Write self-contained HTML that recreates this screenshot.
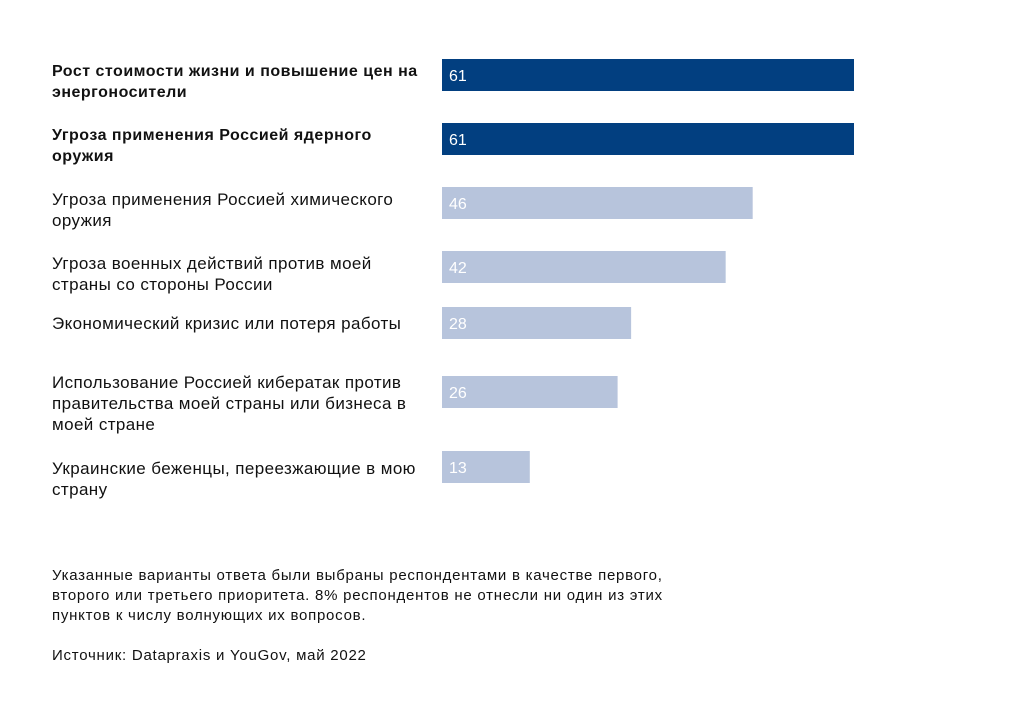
<!DOCTYPE html>
<html><head><meta charset="utf-8"><style>
body{margin:0;background:#fff;width:1024px;height:705px;overflow:hidden;font-family:"Liberation Sans",sans-serif;}
#c{position:absolute;left:0;top:0}
.lab{position:absolute;left:52px;font-size:17px;line-height:21px;color:#111;letter-spacing:0.4px}
.b{font-weight:bold;font-size:16px;letter-spacing:0.5px}
.note{position:absolute;left:52px;font-size:15px;line-height:20px;color:#111;letter-spacing:0.75px}
</style></head><body>
<div class="lab b" style="top:61px">Рост стоимости жизни и повышение цен на<br>энергоносители</div>
<div class="lab b" style="top:125px">Угроза применения Россией ядерного<br>оружия</div>
<div class="lab" style="top:189px">Угроза применения Россией химического<br>оружия</div>
<div class="lab" style="top:253px">Угроза военных действий против моей<br>страны со стороны России</div>
<div class="lab" style="top:313px">Экономический кризис или потеря работы</div>
<div class="lab" style="top:372px">Использование Россией кибератак против<br>правительства моей страны или бизнеса в<br>моей стране</div>
<div class="lab" style="top:458px">Украинские беженцы, переезжающие в мою<br>страну</div>
<svg id="c" width="1024" height="705"></svg>
<div class="note" style="top:566px">Указанные варианты ответа были выбраны респондентами в качестве первого,<br>второго или третьего приоритета. 8% респондентов не отнесли ни один из этих<br>пунктов к числу волнующих их вопросов.</div>
<div class="note" style="top:646px">Источник: Datapraxis и YouGov, май 2022</div>
<script>
const categories=["cost","nuclear","chemical","military","economic","cyber","refugees"];
const values=[61,61,46,42,28,26,13];
const highlighted=[true,true,false,false,false,false,false];
const rowTops=[59,123,187,251,307,376,451];
const x0=442,scale=412/61,barH=32;
function xs(v){return v*scale;}
const svg=document.getElementById('c');
const NS="http://www.w3.org/2000/svg";
values.forEach((v,i)=>{
 const r=document.createElementNS(NS,'rect');
 r.setAttribute('x',x0);r.setAttribute('y',rowTops[i]);
 r.setAttribute('width',xs(v));r.setAttribute('height',barH);
 r.setAttribute('fill',highlighted[i]?'#023f80':'#b7c4dc');
 
 
 svg.appendChild(r);
 const t=document.createElementNS(NS,'text');
 t.setAttribute('x',x0+7);t.setAttribute('y',rowTops[i]+22);
 t.setAttribute('fill','#fff');t.setAttribute('font-size','16');
 t.setAttribute('font-family','Liberation Sans, sans-serif');
 t.textContent=v;
 
 
 svg.appendChild(t);
});
</script>
</body></html>
